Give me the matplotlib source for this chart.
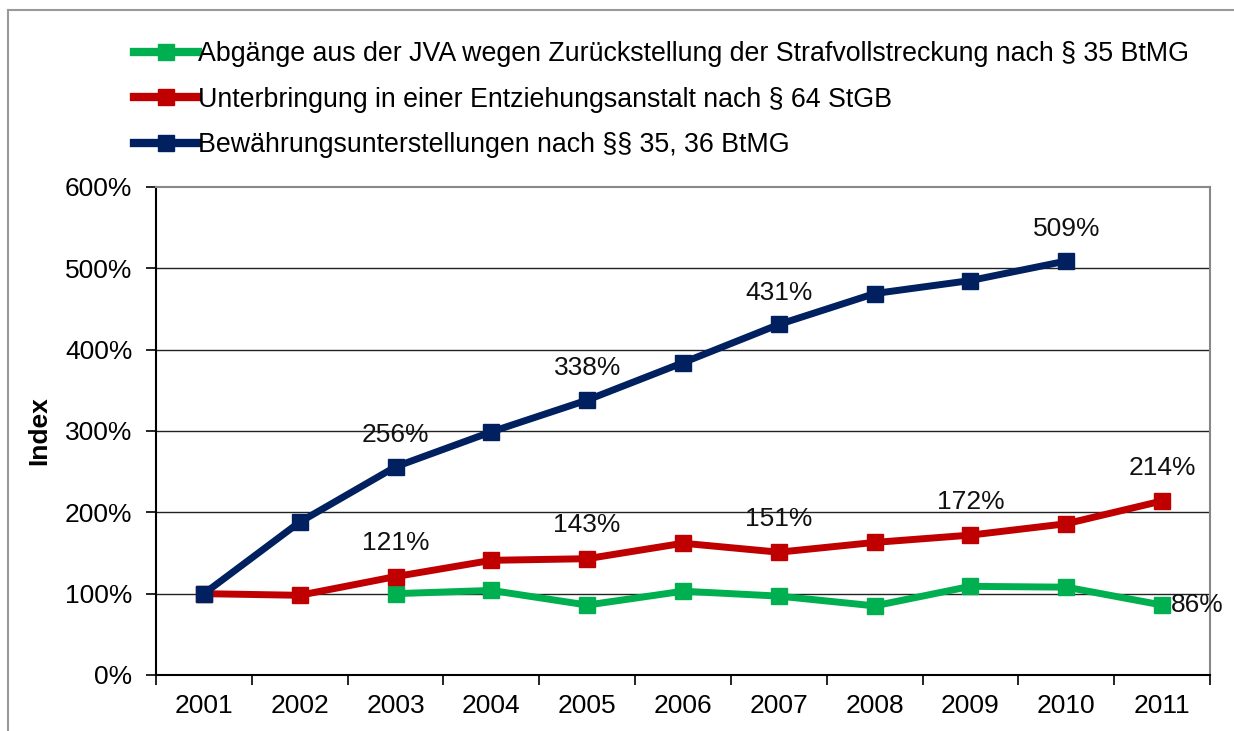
import numpy as np
import matplotlib
matplotlib.use("Agg")
import matplotlib.pyplot as plt
from matplotlib.lines import Line2D

plt.rcParams['font.family'] = ['Liberation Sans', 'DejaVu Sans']

# Daten (Index, 2001 = 100 %)
jahre = ['2001', '2002', '2003', '2004', '2005', '2006', '2007', '2008', '2009', '2010', '2011']
abgaenge = [np.nan, np.nan, 100, 104, 86, 103, 97, 85, 109, 108, 86]
unterbringung = [100, 98, 121, 141, 143, 162, 151, 163, 172, 186, 214]
bewaehrung = [100, 188, 256, 299, 338, 384, 431, 469, 485, 509, np.nan]

labels_abg = {10: '86%'}
labels_unt = {2: '121%', 4: '143%', 6: '151%', 8: '172%', 10: '214%'}
labels_bew = {2: '256%', 4: '338%', 6: '431%', 9: '509%'}

namen = ['Abgänge aus der JVA wegen Zurückstellung der Strafvollstreckung nach § 35 BtMG',
         'Unterbringung in einer Entziehungsanstalt nach § 64 StGB',
         'Bewährungsunterstellungen nach §§ 35, 36 BtMG']
farben = ['#00B050', '#C00000', '#002060']

W, H = 1234, 731
fig = plt.figure(figsize=(W / 100, H / 100), dpi=100)
ax = fig.add_axes([156 / W, (H - 675) / H, (1210 - 156) / W, (675 - 187) / H])

x = np.arange(len(jahre))
for werte, farbe in zip([abgaenge, unterbringung, bewaehrung], farben):
    ax.plot(x, werte, color=farbe, lw=5, marker='s', ms=12, zorder=3)

fs = 19
for werte, labs, off in [(bewaehrung, labels_bew, 23), (unterbringung, labels_unt, 24)]:
    for i, t in labs.items():
        ax.annotate(t, (x[i], werte[i]), xytext=(0, off), textcoords='offset points',
                    ha='center', va='center', fontsize=fs, color='#111111', zorder=4)
for i, t in labels_abg.items():
    ax.annotate(t, (x[i], abgaenge[i]), xytext=(6, 0), textcoords='offset points',
                ha='left', va='center', fontsize=fs, color='#111111', zorder=4)

ax.set_xlim(-0.5, len(jahre) - 0.5)
ax.set_ylim(0, 600)
ax.set_yticks(np.arange(0, 601, 100))
ax.set_yticklabels([f'{v}%' for v in range(0, 601, 100)], fontsize=fs)
ax.set_xticks(x)
ax.set_xticklabels(jahre, fontsize=fs)
ax.set_xticks(np.arange(-0.5, len(jahre)), minor=True)
ax.tick_params(axis='x', which='major', length=0, pad=14)
ax.tick_params(axis='x', which='minor', length=7, width=1.2, color='black')
ax.tick_params(axis='y', length=7, width=1.2, pad=10)

for v in range(100, 600, 100):
    ax.axhline(v, color='#222222', lw=1, zorder=1)

ax.spines['left'].set_color('black')
ax.spines['bottom'].set_color('black')
ax.spines['left'].set_linewidth(1.5)
ax.spines['bottom'].set_linewidth(1.5)
ax.spines['top'].set_color('#888888')
ax.spines['right'].set_color('#888888')
ax.spines['top'].set_linewidth(1.5)
ax.spines['right'].set_linewidth(1.5)

ax.set_ylabel('Index', fontsize=fs, fontweight='bold', labelpad=10)

handles = [Line2D([], [], color=f, lw=6, marker='s', ms=11) for f in farben]
fig.legend(handles, namen, loc='upper left', bbox_to_anchor=(110 / W, 1 - 17 / H),
           frameon=False, fontsize=19.3, handlelength=2.4, handletextpad=0.0,
           labelspacing=0.73, numpoints=1)

# äußerer Rahmen
fig.add_artist(Line2D([8 / W, 1], [1 - 10 / H, 1 - 10 / H], color='#999999', lw=1.5))
fig.add_artist(Line2D([8 / W, 8 / W], [0, 1 - 10 / H], color='#999999', lw=1.5))

fig.savefig('out.png', dpi=100)
